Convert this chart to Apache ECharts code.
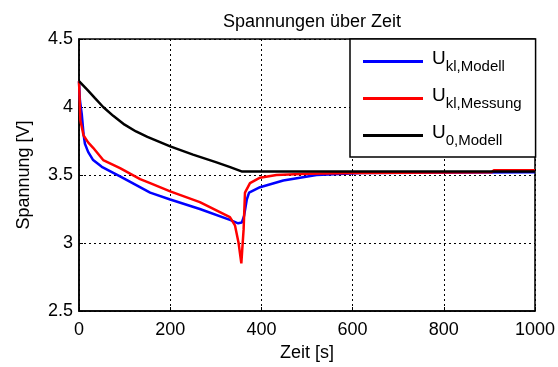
<!DOCTYPE html>
<html>
<head>
<meta charset="utf-8">
<script src="https://cdn.jsdelivr.net/npm/echarts@6/dist/echarts.min.js"></script>
<style>
  html, body { margin: 0; padding: 0; background: #fff; }
  #chart { width: 558px; height: 367px; }
</style>
</head>
<body>
<div id="chart"></div>
<script>
// Zeit [s] und Spannung [V]
const tModell = [0, 2, 6, 10, 13, 20, 31, 50, 90, 156, 200, 265, 331, 349, 357, 362, 368, 373, 397, 448, 521, 620, 1000];
const uModell = [4.19, 4.05, 3.95, 3.80, 3.73, 3.67, 3.61, 3.56, 3.49, 3.37, 3.32, 3.25, 3.17, 3.145, 3.15, 3.2, 3.32, 3.37, 3.41, 3.46, 3.50, 3.515, 3.52];

const tMessung = [0, 3, 6, 10, 20, 31, 53, 90, 134, 156, 200, 265, 331, 342, 350, 356, 358, 361, 364, 375, 397, 433, 500, 600, 905, 910, 1000];
const uMessung = [4.19, 3.9, 3.855, 3.79, 3.74, 3.70, 3.61, 3.55, 3.47, 3.44, 3.38, 3.30, 3.19, 3.13, 3.0, 2.85, 2.84, 3.1, 3.37, 3.44, 3.48, 3.50, 3.51, 3.515, 3.52, 3.535, 3.535];

const tLeer = [0, 10, 20, 35, 53, 75, 100, 125, 150, 175, 200, 250, 300, 330, 358, 1000];
const uLeer = [4.19, 4.155, 4.12, 4.065, 4.0, 3.935, 3.87, 3.82, 3.78, 3.745, 3.71, 3.65, 3.595, 3.56, 3.525, 3.525];

const names = ["Ukl,Modell", "Ukl,Messung", "U0,Modell"];
const subs = ["kl,Modell", "kl,Messung", "0,Modell"];
const farben = ["#0000ff", "#ff0000", "#000000"];

function paare(t, u) {
  return t.map((x, i) => [x, u[i]]);
}

const chart = echarts.init(document.getElementById("chart"));
const font = "Liberation Sans, Arial, sans-serif";
const gridLine = { show: true, lineStyle: { color: "#000", type: [2, 3], width: 1 } };

let option = {
  animation: false,
  title: {
    text: "Spannungen über Zeit",
    left: 307,
    textAlign: "center",
    top: 8,
    textStyle: { fontFamily: font, fontWeight: "normal", fontSize: 18, color: "#000" },
  },
  grid: {
    left: 79, right: 23, top: 39, bottom: 56,
    show: true, borderColor: "#000", borderWidth: 1.5,
  },
  legend: {
    orient: "vertical",
    left: 350, top: 39,
    padding: [10, 14, 9, 13],
    itemGap: 12,
    itemWidth: 60, itemHeight: 3,
    icon: "rect",
    backgroundColor: "#fff",
    borderColor: "#000", borderWidth: 1.5,
    data: names,
    formatter: (n) => "{u|U}{s|" + subs[names.indexOf(n)] + "}",
    textStyle: {
      fontFamily: font, color: "#000",
      rich: {
        u: { fontSize: 19, fontFamily: font, color: "#000", verticalAlign: "top", padding: [0, 0, 6, 4] },
        s: { fontSize: 15, fontFamily: font, color: "#000", verticalAlign: "bottom", padding: [10, 0, 0, 0] },
      },
    },
  },
  xAxis: {
    type: "value", min: 0, max: 1000, interval: 200,
    name: "Zeit [s]", nameLocation: "middle", nameGap: 30,
    nameTextStyle: { fontFamily: font, fontSize: 18, color: "#000" },
    axisLine: { show: true, onZero: false, lineStyle: { color: "#000", width: 1.5 } },
    axisTick: { show: true, inside: true, length: 4, lineStyle: { color: "#000" } },
    axisLabel: { fontFamily: font, fontSize: 18, color: "#000", margin: 10, formatter: (v) => String(v) },
    splitLine: gridLine,
  },
  yAxis: {
    type: "value", min: 2.5, max: 4.5, interval: 0.5,
    name: "Spannung [V]", nameLocation: "middle", nameGap: 46,
    nameTextStyle: { fontFamily: font, fontSize: 18, color: "#000" },
    axisLine: { show: true, lineStyle: { color: "#000", width: 1.5 } },
    axisTick: { show: true, inside: true, length: 4, lineStyle: { color: "#000" } },
    axisLabel: { fontFamily: font, fontSize: 18, color: "#000", margin: 6, formatter: (v) => String(v) },
    splitLine: gridLine,
  },
  series: [
    { name: names[0], data: paare(tModell, uModell) },
    { name: names[1], data: paare(tMessung, uMessung) },
    { name: names[2], data: paare(tLeer, uLeer) },
  ].map((s, i) => ({
    ...s,
    type: "line",
    showSymbol: false,
    lineStyle: { color: farben[i], width: 2.5 },
    itemStyle: { color: farben[i] },
  })),
};

chart.setOption(option);
</script>
</body>
</html>
